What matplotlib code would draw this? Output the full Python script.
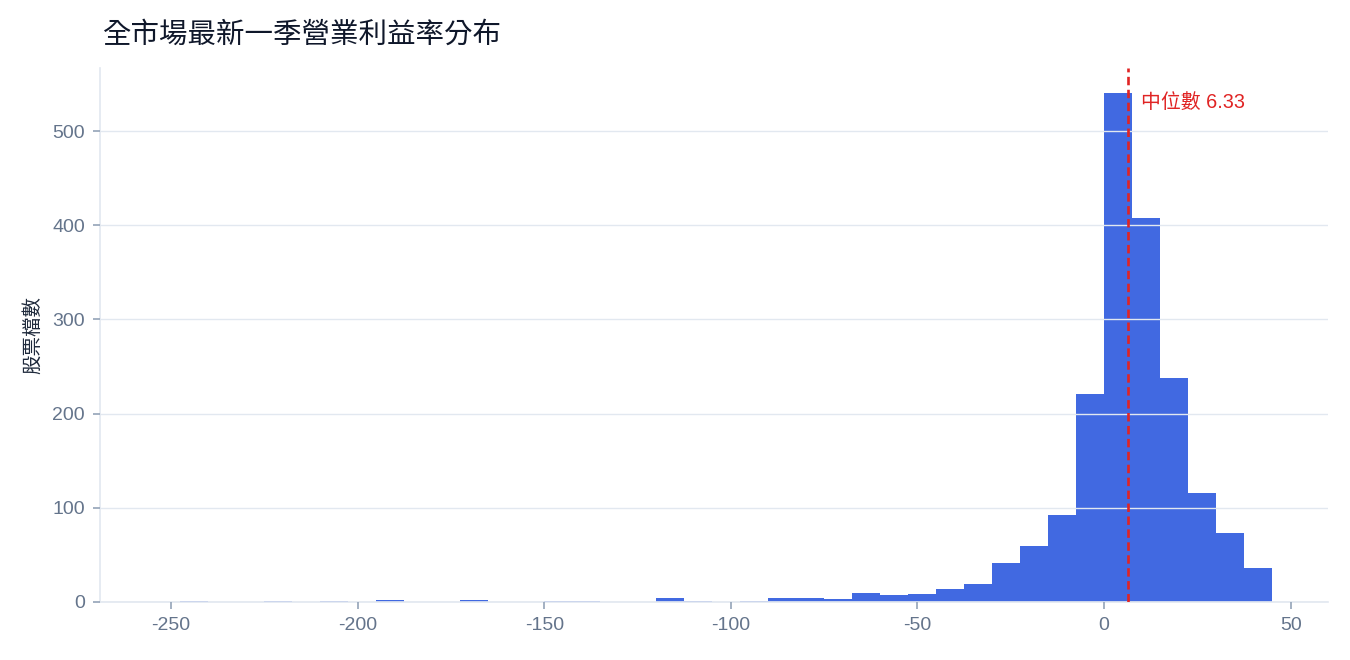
import matplotlib
matplotlib.use("Agg")
import matplotlib.pyplot as plt
import numpy as np

plt.rcParams["font.family"] = ["Liberation Sans", "Noto Sans CJK TC", "DejaVu Sans"]

# 直方圖資料（營業利益率 %，每 7.5 一格）
bin_edges = np.arange(-255, 45.1, 7.5)
counts = [0, 1, 0, 0, 1, 0, 1, 0, 2, 0,
          0, 2, 0, 0, 1, 1, 0, 0, 4, 1,
          0, 1, 4, 4, 3, 10, 7, 8, 14, 19,
          41, 59, 92, 221, 540, 408, 238, 116, 73, 36]
median_value = 6.33
title = "全市場最新一季營業利益率分布"
ylabel = "股票檔數"
xticks = [-250, -200, -150, -100, -50, 0, 50]
yticks = [0, 100, 200, 300, 400, 500]

centers = (bin_edges[:-1] + bin_edges[1:]) / 2

fig = plt.figure(figsize=(13.5, 6.6), dpi=100)
ax = fig.add_axes([0.0741, 0.0879, 0.9096, 0.8091])

ax.hist(centers, bins=bin_edges, weights=counts, color="#4169e1", zorder=1)

# 中位數
ax.axvline(median_value, color="#e02424", linestyle=(0, (3.2, 1.7)), lw=1.9, zorder=3)
ax.text(median_value + 3.6, 530, f"中位數 {median_value}", color="#e02424",
        fontsize=14.3, va="center", ha="left", zorder=4)

ax.set_xlim(-269, 60)
ax.set_ylim(0, 567)
ax.set_xticks(xticks)
ax.set_yticks(yticks)
ax.set_xticklabels([str(t) for t in xticks])

ax.grid(axis="y", color="#e2e8f0", lw=1, zorder=2)
ax.set_axisbelow(False)
for s in ["top", "right"]:
    ax.spines[s].set_visible(False)
for s in ["left", "bottom"]:
    ax.spines[s].set_color("#e2e8f0")
    ax.spines[s].set_linewidth(1.2)

ax.tick_params(axis="both", colors="#94a3b8", labelcolor="#64748b", labelsize=14,
               length=5, width=1.2)
ax.tick_params(axis="y", pad=6)
ax.tick_params(axis="x", pad=6)

ax.set_ylabel(ylabel, fontsize=14, color="#1e293b", labelpad=7)
fig.text(103 / 1350, 1 - 35 / 660, title, fontsize=20.5, color="#0f172a",
         ha="left", va="center")

fig.savefig("out.png", dpi=100)
